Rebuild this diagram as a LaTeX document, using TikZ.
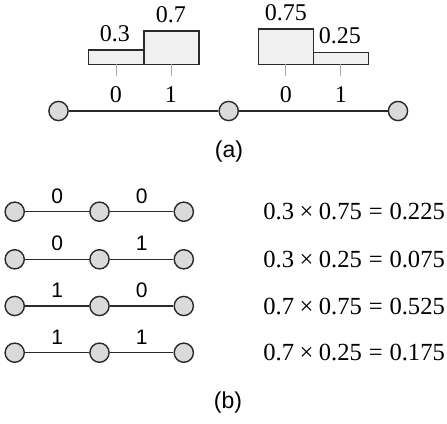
\documentclass[tikz,border=0pt]{standalone}
\usepackage{fontspec}
\setmainfont{Liberation Serif}
\setsansfont{Liberation Sans}
\usepackage{xcolor}
\definecolor{vertexfill}{HTML}{DADADA}
\definecolor{barfill}{HTML}{F0F0F0}
\definecolor{linegray}{HTML}{2A2A2A}
\newcommand{\prodeq}[3]{#1\hspace{0.222em}×\hspace{0.222em}#2\hspace{0.278em}=\hspace{0.278em}#3}

\begin{document}
\begin{tikzpicture}[x=0.5pt,y=-0.5pt,
  vertex/.style={circle,draw=linegray,fill=vertexfill,line width=0.7pt,minimum size=9.6pt,inner sep=0pt},
  histbar/.style={rectangle,draw=linegray,fill=barfill,line width=0.7pt,minimum width=27.5pt,inner sep=0pt,outer sep=0pt,anchor=south},
  link/.style={draw=linegray,line width=0.75pt},
  tickline/.style={draw=black!35,line width=0.5pt},
  num/.style={font=\fontsize{12}{14}\selectfont},
  eqn/.style={font=\fontsize{12.3}{14}\selectfont,anchor=west,inner sep=0pt},
  bitlabel/.style={font=\sffamily\fontsize{10.5}{12}\selectfont},
  subcap/.style={font=\sffamily\fontsize{11.5}{13}\selectfont}]
\useasboundingbox (0,0) rectangle (447,424);
%%% (a)
\path (58.5,111) node(a1) [vertex] {}
(228.7,111) node(a2) [vertex] {}
(398,111) node(a3) [vertex] {};
\draw[link] (a1) -- (a2);
\draw[link] (a2) -- (a3);

\path (116.3,64.3) node(p0) [histbar,minimum height=7.15pt] {}
(171.5,64.3) node(p1) [histbar,minimum height=16.65pt] {}
(286,64.3) node(q0) [histbar,minimum height=17.65pt] {}
(340.8,64.3) node(q1) [histbar,minimum height=6pt] {};
\draw[tickline] (p0.south) -- +(0,12);
\draw[tickline] (p1.south) -- +(0,12);
\draw[tickline] (q0.south) -- +(0,12);
\draw[tickline] (q1.south) -- +(0,12);

\path (115,34) node(lp0) [num] {0.3}
(171,15) node(lp1) [num] {0.7}
(286,13) node(lq0) [num] {0.75}
(340,36) node(lq1) [num] {0.25}
(116,95) node(xp0) [num] {0}
(171,95) node(xp1) [num] {1}
(286,95) node(xq0) [num] {0}
(341,95) node(xq1) [num] {1};
\node(capa) [subcap] at (229,152) {(a)};

%%% (b)
\path (14.7,211.7) node(r1a) [vertex] {}
(99.5,211.7) node(r1b) [vertex] {}
(183.8,211.7) node(r1c) [vertex] {}
(14.7,259.3) node(r2a) [vertex] {}
(99.5,259.3) node(r2b) [vertex] {}
(183.8,259.3) node(r2c) [vertex] {}
(14.7,306) node(r3a) [vertex] {}
(99.5,306) node(r3b) [vertex] {}
(183.8,306) node(r3c) [vertex] {}
(14.7,352.7) node(r4a) [vertex] {}
(99.5,352.7) node(r4b) [vertex] {}
(183.8,352.7) node(r4c) [vertex] {};
\draw[link] (r1a) -- node[bitlabel,above=0.5pt]{0} (r1b);
\draw[link] (r1b) -- node[bitlabel,above=0.5pt]{0} (r1c);
\draw[link] (r2a) -- node[bitlabel,above=0.5pt]{0} (r2b);
\draw[link] (r2b) -- node[bitlabel,above=0.5pt]{1} (r2c);
\draw[link] (r3a) -- node[bitlabel,above=0.5pt]{1} (r3b);
\draw[link] (r3b) -- node[bitlabel,above=0.5pt]{0} (r3c);
\draw[link] (r4a) -- node[bitlabel,above=0.5pt]{1} (r4b);
\draw[link] (r4b) -- node[bitlabel,above=0.5pt]{1} (r4c);

\path (263,211.7) node(e1) [eqn] {\prodeq{0.3}{0.75}{0.225}}
(263,259.3) node(e2) [eqn] {\prodeq{0.3}{0.25}{0.075}}
(263,306) node(e3) [eqn] {\prodeq{0.7}{0.75}{0.525}}
(263,352.7) node(e4) [eqn] {\prodeq{0.7}{0.25}{0.175}};
\node(capb) [subcap] at (228,403) {(b)};
\end{tikzpicture}
\end{document}
